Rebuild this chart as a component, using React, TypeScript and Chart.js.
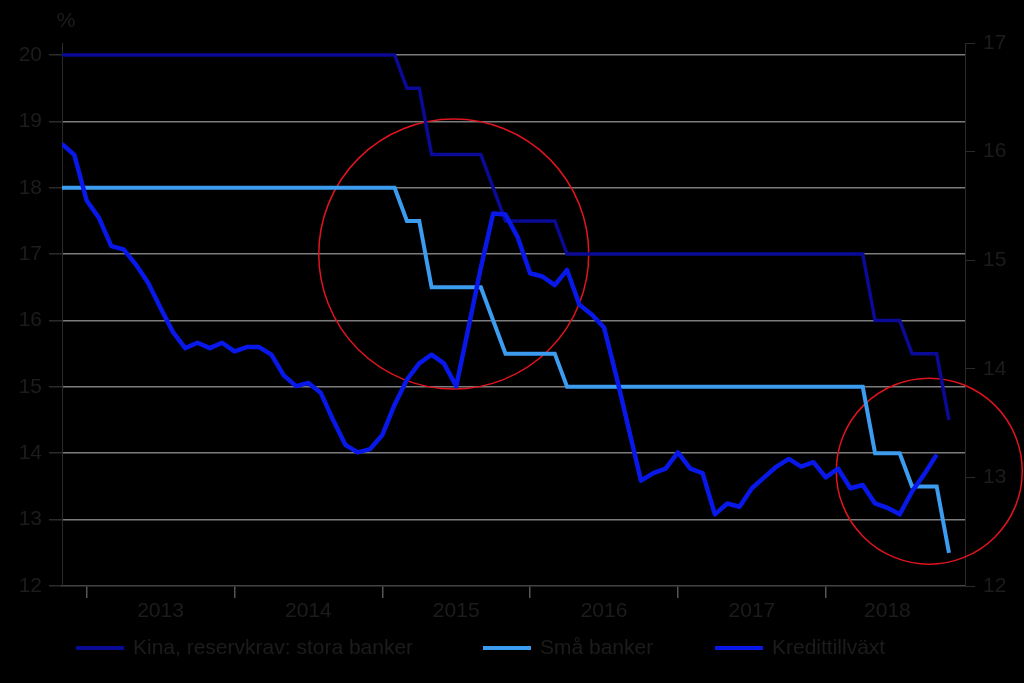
import React, { useEffect, useRef } from 'react';
import { Chart, registerables } from 'chart.js';

Chart.register(...registerables);

// Monthly observations, first one = Nov 2012 (month offset -2 from Jan 2013)
const FIRST_MONTH_OFFSET = -2;

const seriesNames = ['Kina, reservkrav: stora banker', 'Små banker', 'Kredittillväxt'];

const largeBanks = [
  20, 20, 20, 20, 20, 20, 20, 20, 20, 20,
  20, 20, 20, 20, 20, 20, 20, 20, 20, 20,
  20, 20, 20, 20, 20, 20, 20, 20,
  19.5, 19.5,
  18.5, 18.5, 18.5, 18.5, 18.5,
  18,
  17.5, 17.5, 17.5, 17.5, 17.5,
  17, 17, 17, 17, 17, 17, 17, 17, 17, 17,
  17, 17, 17, 17, 17, 17, 17, 17, 17, 17,
  17, 17, 17, 17, 17,
  16, 16, 16,
  15.5, 15.5, 15.5,
  14.5,
];

const smallBanks = [
  18, 18, 18, 18, 18, 18, 18, 18, 18, 18,
  18, 18, 18, 18, 18, 18, 18, 18, 18, 18,
  18, 18, 18, 18, 18, 18, 18, 18,
  17.5, 17.5,
  16.5, 16.5, 16.5, 16.5, 16.5,
  16,
  15.5, 15.5, 15.5, 15.5, 15.5,
  15, 15, 15, 15, 15, 15, 15, 15, 15, 15,
  15, 15, 15, 15, 15, 15, 15, 15, 15, 15,
  15, 15, 15, 15, 15,
  14, 14, 14,
  13.5, 13.5, 13.5,
  12.5,
];

const creditGrowth = [
  16.07, 15.97, 15.55, 15.39, 15.13, 15.10, 14.96, 14.79, 14.56, 14.34,
  14.19, 14.24, 14.19, 14.24, 14.16, 14.20, 14.20, 14.13, 13.94, 13.84,
  13.87, 13.78, 13.53, 13.30, 13.23, 13.26, 13.39, 13.67, 13.90, 14.05,
  14.13, 14.05, 13.84, 14.38, 14.93, 15.43, 15.42, 15.21, 14.88, 14.85,
  14.77, 14.91, 14.59, 14.50, 14.38, 13.93, 13.45, 12.97, 13.04, 13.08,
  13.23, 13.08, 13.04, 12.66, 12.76, 12.73, 12.90, 13.00, 13.10, 13.17,
  13.10, 13.14, 13.00, 13.08, 12.90, 12.93, 12.76, 12.72, 12.66, 12.87,
  13.03, 13.21,
];

const yearLabels = ['2013', '2014', '2015', '2016', '2017', '2018'];
const yearLabelPos = [6, 18, 30, 42, 54, 65];
const yearTickPos = [0, 12, 24, 36, 48, 60];
const leftTicks = [12, 13, 14, 15, 16, 17, 18, 19, 20];
const rightTicks = [12, 13, 14, 15, 16, 17];

// highlight circles (centre in data units, radius in px)
const circleX = [29.8, 68.4];
const circleY = [17.0, 13.73];
const circleR = [135, 93];

const COLORS = ['#0a0a96', '#3c9cf0', '#0818e8'];
const TEXT = '#1c1c1c';
const FONT = '"Liberation Sans", Arial, sans-serif';

const toXY = (arr: number[]) => arr.map((v, i) => ({ x: i + FIRST_MONTH_OFFSET, y: v }));

const legendX = [76, 483, 715];

const decorPlugin = {
  id: 'decor',
  beforeDatasetsDraw(chart: any) {
    const { ctx, scales } = chart;
    ctx.save();
    ctx.strokeStyle = '#e0141e';
    ctx.lineWidth = 1.5;
    for (let i = 0; i < circleX.length; i++) {
      const cx = scales.x.getPixelForValue(circleX[i]);
      const cy = scales.y.getPixelForValue(circleY[i]);
      ctx.beginPath();
      ctx.arc(cx, cy, circleR[i], 0, Math.PI * 2);
      ctx.stroke();
    }
    ctx.restore();
  },
  afterDraw(chart: any) {
    const { ctx, chartArea } = chart;
    ctx.save();
    ctx.fillStyle = TEXT;
    ctx.font = `21px ${FONT}`;
    ctx.textAlign = 'center';
    ctx.textBaseline = 'middle';
    ctx.fillText('%', chartArea.left + 4, chartArea.top - 22);

    // legend
    const ly = 648;
    chart.data.datasets.forEach((ds: any, i: number) => {
      const x0 = legendX[i];
      ctx.strokeStyle = ds.borderColor;
      ctx.lineWidth = 4;
      ctx.beginPath();
      ctx.moveTo(x0, ly);
      ctx.lineTo(x0 + 48, ly);
      ctx.stroke();
      ctx.fillStyle = TEXT;
      ctx.textAlign = 'left';
      ctx.fillText(ds.label, x0 + 57, ly);
    });
    ctx.restore();
  },
};

export default function App() {
  const ref = useRef<HTMLCanvasElement | null>(null);

  useEffect(() => {
    if (!ref.current) return;
    const chart = new Chart(ref.current, {
      type: 'line',
      data: {
        datasets: [
          {
            label: seriesNames[0],
            data: toXY(largeBanks),
            borderColor: COLORS[0],
            backgroundColor: COLORS[0],
            borderWidth: 3.5,
            pointRadius: 0,
            tension: 0,
            yAxisID: 'y',
            order: 2,
          },
          {
            label: seriesNames[1],
            data: toXY(smallBanks),
            borderColor: COLORS[1],
            backgroundColor: COLORS[1],
            borderWidth: 4,
            pointRadius: 0,
            tension: 0,
            yAxisID: 'y',
            order: 1,
          },
          {
            label: seriesNames[2],
            data: toXY(creditGrowth),
            borderColor: COLORS[2],
            backgroundColor: COLORS[2],
            borderWidth: 4.5,
            borderJoinStyle: 'round',
            pointRadius: 0,
            tension: 0,
            yAxisID: 'y1',
            order: 0,
          },
        ],
      },
      options: {
        responsive: false,
        animation: false,
        layout: { padding: { top: 43, left: 0, right: 0, bottom: 0 } },
        plugins: {
          legend: { display: false },
          tooltip: { enabled: false },
        },
        scales: {
          x: {
            type: 'linear',
            min: -2,
            max: 71.3,
            afterBuildTicks: (axis: any) => {
              const all = [...yearTickPos, ...yearLabelPos].sort((a, b) => a - b);
              axis.ticks = all.map((v) => ({ value: v }));
            },
            afterFit: (axis: any) => {
              axis.height = 97;
            },
            ticks: {
              autoSkip: false,
              maxRotation: 0,
              padding: 1,
              color: TEXT,
              font: { size: 21, family: FONT },
              callback: (value: any) => {
                const idx = yearLabelPos.indexOf(Number(value));
                return idx >= 0 ? yearLabels[idx] : '';
              },
            },
            grid: {
              drawOnChartArea: false,
              drawTicks: true,
              tickLength: 12,
              lineWidth: 1.5,
              tickColor: (ctx: any) =>
                ctx.tick && yearTickPos.includes(ctx.tick.value) ? '#555' : 'rgba(0,0,0,0)',
            },
            border: { display: true, color: '#444', width: 1.5 },
          },
          y: {
            type: 'linear',
            position: 'left',
            min: 12,
            max: 20.18,
            afterBuildTicks: (axis: any) => {
              axis.ticks = leftTicks.map((v) => ({ value: v }));
            },
            afterFit: (axis: any) => {
              axis.width = 62;
            },
            ticks: {
              padding: 7,
              color: TEXT,
              font: { size: 21, family: FONT },
            },
            grid: {
              drawOnChartArea: true,
              tickLength: 13,
              lineWidth: 1.5,
              color: (ctx: any) =>
                ctx.tick && ctx.tick.value === 12 ? 'rgba(0,0,0,0)' : '#7c7c7c',
              tickColor: '#2a2a2a',
            },
            border: { display: true, color: '#2a2a2a', width: 1 },
          },
          y1: {
            type: 'linear',
            position: 'right',
            min: 12,
            max: 17,
            afterBuildTicks: (axis: any) => {
              axis.ticks = rightTicks.map((v) => ({ value: v }));
            },
            afterFit: (axis: any) => {
              axis.width = 59;
            },
            ticks: {
              padding: 8,
              color: TEXT,
              font: { size: 21, family: FONT },
            },
            grid: {
              drawOnChartArea: false,
              tickLength: 10,
              tickColor: '#2a2a2a',
            },
            border: { display: true, color: '#2a2a2a', width: 1 },
          },
        },
      },
      plugins: [decorPlugin],
    } as any);
    return () => chart.destroy();
  }, []);

  return (
    <div
      style={{
        position: 'fixed',
        left: 0,
        top: 0,
        width: 1024,
        height: 683,
        background: '#000',
      }}
    >
      <canvas ref={ref} width={1024} height={683} style={{ display: 'block' }} />
    </div>
  );
}
